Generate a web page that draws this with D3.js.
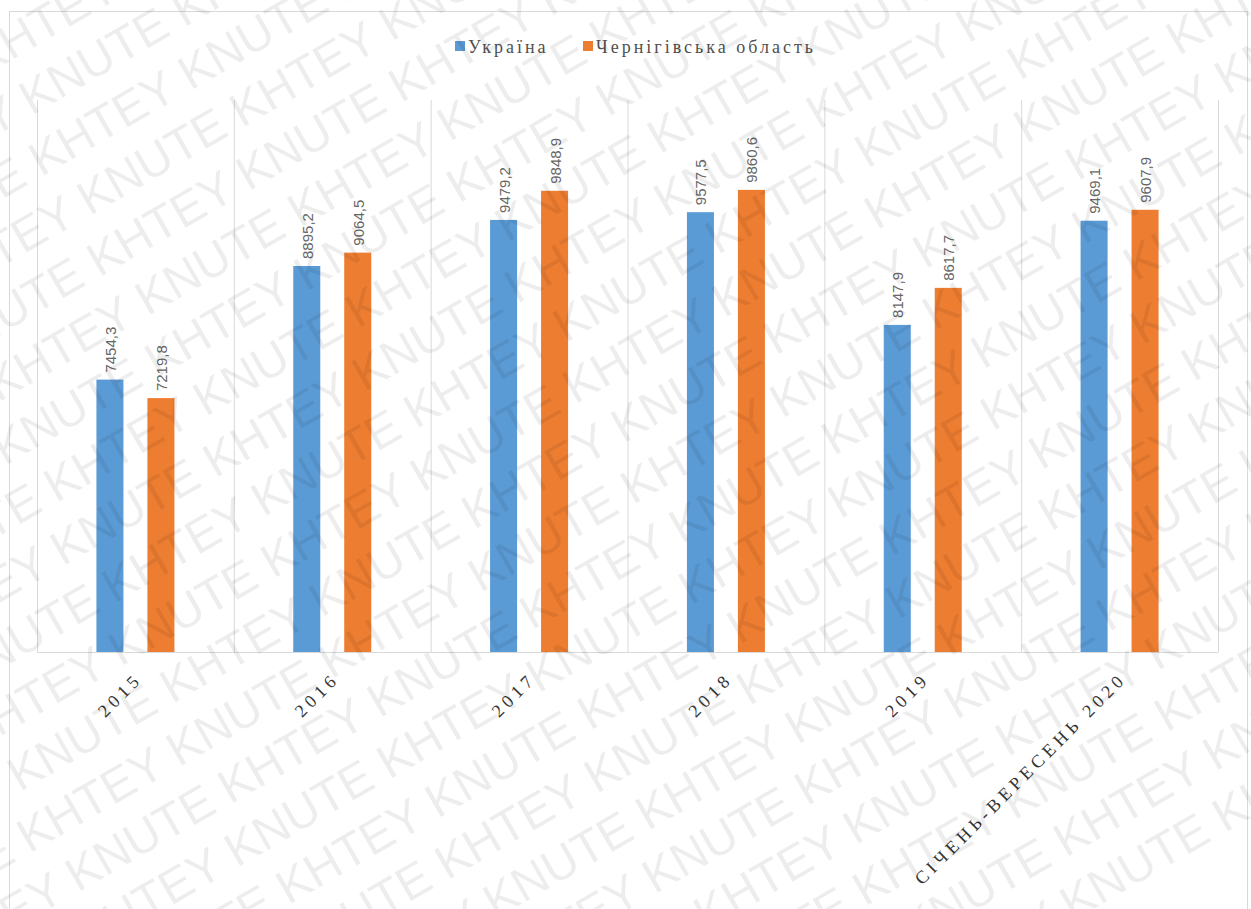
<!DOCTYPE html>
<html>
<head>
<meta charset="utf-8">
<script src="https://cdn.jsdelivr.net/npm/d3@7"></script>
<style>
  body { margin: 0; background: #fff; }
  svg { display: block; }
</style>
</head>
<body>
<svg id="canvas"></svg>
<script>
let width = 1251, height = 909

// data
const categories = ["2015", "2016", "2017", "2018", "2019", "СІЧЕНЬ-ВЕРЕСЕНЬ 2020"]
const series = ["Україна", "Чернігівська область"]
const ukraine = [7454.3, 8895.2, 9479.2, 9577.5, 8147.9, 9469.1]
const chernihiv = [7219.8, 9064.5, 9848.9, 9860.6, 8617.7, 9607.9]
const colors = ["#5b9bd5", "#ed7d31"]

let rows = categories.map((c, i) => ({cat: c, values: [ukraine[i], chernihiv[i]]}))

let svg = d3.select('#canvas').attr("width", width).attr("height", height)

// outer chart frame
svg.append("rect")
  .attr("x", 9.5).attr("y", 11.5).attr("width", 1238).attr("height", 950)
  .style("fill", "none").style("stroke", "#d9d9d9")

let plot = {left: 37, right: 1218, top: 100, bottom: 652}

let x0 = d3.scaleBand().domain(categories).range([plot.left, plot.right])
let bw = x0.bandwidth()
let x1 = d3.scaleBand().domain([0, 1]).range([bw / 2 - 39, bw / 2 + 39]).paddingInner(0.47)
let y = d3.scaleLinear().domain([4000, 11000]).range([plot.bottom, plot.top])

// vertical gridlines at category boundaries
let bounds = categories.map(c => x0(c)).concat([plot.right])
svg.selectAll(".grid")
  .data(bounds)
  .enter()
  .append("line")
  .attr("x1", d => d + 0.5).attr("x2", d => d + 0.5)
  .attr("y1", plot.top).attr("y2", plot.bottom)
  .style("stroke", "#d9d9d9")

let groups = svg.selectAll(".cat")
  .data(rows)
  .enter()
  .append("g")
  .attr("transform", d => `translate(${x0(d.cat)},0)`)

groups.selectAll("rect")
  .data(d => d.values)
  .enter()
  .append("rect")
  .attr("x", (d, i) => x1(i))
  .attr("y", d => y(d))
  .attr("width", x1.bandwidth())
  .attr("height", d => plot.bottom - y(d))
  .style("fill", (d, i) => colors[i])

let fmt = v => d3.format(".1f")(v).replace(".", ",")

groups.selectAll(".lbl")
  .data(d => d.values)
  .enter()
  .append("text")
  .attr("transform", (d, i) => `translate(${x1(i) + x1.bandwidth() / 2 + 6},${y(d) - 7}) rotate(-90)`)
  .style("font-family", "'Liberation Sans', Arial, sans-serif")
  .style("font-size", "15px")
  .style("fill", "#666")
  .text(d => fmt(d))

// baseline
svg.append("line")
  .attr("x1", plot.left).attr("x2", plot.right)
  .attr("y1", plot.bottom + 0.5).attr("y2", plot.bottom + 0.5)
  .style("stroke", "#d9d9d9")

// category labels
let xAxis = svg.append("g").attr("transform", `translate(0,${plot.bottom})`)
  .call(d3.axisBottom(x0).tickSize(0).tickPadding(0))
xAxis.select(".domain").remove()
xAxis.selectAll("text")
  .attr("text-anchor", "end")
  .attr("dy", null)
  .attr("transform", "translate(8,28) rotate(-45)")
  .style("font-family", "'Liberation Serif', 'Times New Roman', serif")
  .style("font-size", "18px")
  .style("letter-spacing", "4.5px")
  .style("fill", "#333")

// legend
let legendX = [455, 583]
let legend = svg.selectAll(".leg")
  .data(series)
  .enter()
  .append("g")
  .attr("transform", (d, i) => `translate(${legendX[i]},41)`)
legend.append("rect").attr("width", 10).attr("height", 10).style("fill", (d, i) => colors[i])
legend.append("text")
  .attr("x", 13).attr("y", 12)
  .style("font-family", "'Liberation Serif', 'Times New Roman', serif")
  .style("font-size", "18px")
  .style("letter-spacing", "3px")
  .style("fill", "#505050")
  .text(d => d)

// watermark
let wm = svg.append("g").attr("transform", "rotate(-30)")
  .style("font-family", "'Liberation Sans', Arial, sans-serif")
  .style("font-size", "48px")
  .style("fill", "#000")
  .style("fill-opacity", 0.07)
let phrase = d3.range(12).map(() => "KHTEY KNUTE").join(" ")
d3.range(-6, 24).forEach(k => {
  wm.append("text")
    .attr("x", -900 + (k % 2) * 150)
    .attr("y", k * 58)
    .text(phrase)
})
</script>
</body>
</html>
